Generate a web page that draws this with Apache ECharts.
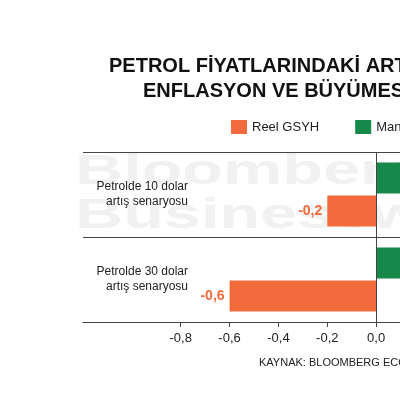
<!DOCTYPE html>
<html>
<head>
<meta charset="utf-8">
<script src="https://cdn.jsdelivr.net/npm/echarts@6/dist/echarts.min.js"></script>
<style>
html,body{margin:0;padding:0;background:#fff;overflow:hidden;}
#chart{width:800px;height:400px;}
</style>
</head>
<body>
<div id="chart"></div>
<script>
// Categories listed bottom-up (ECharts category y-axis starts at the bottom)
var categories = ['Petrolde 30 dolar\nartış senaryosu', 'Petrolde 10 dolar\nartış senaryosu'];
var seriesNames = ['Reel GSYH', 'Manşet enflasyon'];
var gdpValues = [-0.6, -0.2];
var inflationValues = [1.5, 0.5]; // these bars run off the visible frame; values estimated
var tickValues = [-0.8, -0.6, -0.4, -0.2, 0, 0.2, 0.4, 0.6, 0.8, 1.0, 1.2, 1.4, 1.6];
var titleLines = ['PETROL FİYATLARINDAKİ ARTIŞIN', 'ENFLASYON VE BÜYÜMESİNE ETKİSİ'];
var sourceText = 'KAYNAK: BLOOMBERG ECONOMICS';

var ORANGE = '#F26B3C';
var GREEN = '#15884A';
var FONT = 'Liberation Sans';

function fmt(v) { return Number(v).toFixed(1).replace('.', ','); }

var chart = echarts.init(document.getElementById('chart'), null, {renderer: 'canvas'});
chart.setOption({
  backgroundColor: '#ffffff',
  animation: false,
  textStyle: {fontFamily: FONT},
  title: [
    {text: titleLines[0], left: 104, top: 51,
     textStyle: {fontFamily: FONT, fontSize: 20, fontWeight: 'bold', color: '#111'}},
    {text: titleLines[1], left: 138, top: 76,
     textStyle: {fontFamily: FONT, fontSize: 20, fontWeight: 'bold', color: '#111'}}
  ],
  legend: {
    data: seriesNames,
    left: 226, top: 115,
    itemWidth: 16, itemHeight: 14, itemGap: 36,
    icon: 'rect',
    textStyle: {fontFamily: FONT, fontSize: 13, color: '#222'}
  },
  graphic: [
    {type: 'text', left: 75, top: 151, z: -1, scaleX: 1.55, silent: true,
     style: {text: 'Bloomberg', fontFamily: FONT, fontSize: 43, fontWeight: 'bold', fill: '#f1f1f1'}},
    {type: 'text', left: 75, top: 195, z: -1, scaleX: 1.55, silent: true,
     style: {text: 'Businessweek', fontFamily: FONT, fontSize: 43, fontWeight: 'bold', fill: '#f1f1f1'}},
    {type: 'text', left: 259, top: 357,
     style: {text: sourceText, fontFamily: FONT, fontSize: 11, fill: '#222'}}
  ],
  grid: {left: 83, right: 33, top: 152, bottom: 78, containLabel: false},
  xAxis: {
    type: 'value',
    min: -1.2, max: 1.6, interval: 0.2,
    axisLine: {show: true, lineStyle: {color: '#444', width: 1}},
    axisTick: {show: true, length: 5, customValues: tickValues, lineStyle: {color: '#444'}},
    axisLabel: {customValues: tickValues, formatter: fmt, fontSize: 13, color: '#222', margin: 10, fontFamily: FONT},
    splitLine: {show: false}
  },
  yAxis: {
    type: 'category',
    data: categories,
    offset: -113,
    axisLine: {show: false},
    axisTick: {show: false},
    axisLabel: {fontSize: 12, color: '#222', lineHeight: 15, align: 'right', margin: 8, fontFamily: FONT},
    splitLine: {show: true, lineStyle: {color: '#444', width: 1}}
  },
  series: [
    {
      name: seriesNames[1], type: 'bar', data: inflationValues,
      barWidth: 31, barGap: '6%',
      itemStyle: {color: GREEN},
      label: {show: true, position: 'right', distance: 5, formatter: function (p) { return fmt(p.value); },
              color: GREEN, fontWeight: 'bold', fontSize: 14, fontFamily: FONT},
      markLine: {silent: true, symbol: 'none', label: {show: false},
                 lineStyle: {color: '#444', width: 1, type: 'solid'},
                 data: [{xAxis: 0}]}
    },
    {
      name: seriesNames[0], type: 'bar', data: gdpValues,
      barWidth: 31, barGap: '6%',
      itemStyle: {color: ORANGE},
      label: {show: true, position: 'left', distance: 5, formatter: function (p) { return fmt(p.value); },
              color: ORANGE, fontWeight: 'bold', fontSize: 14, fontFamily: FONT}
    }
  ]
});
</script>
</body>
</html>
